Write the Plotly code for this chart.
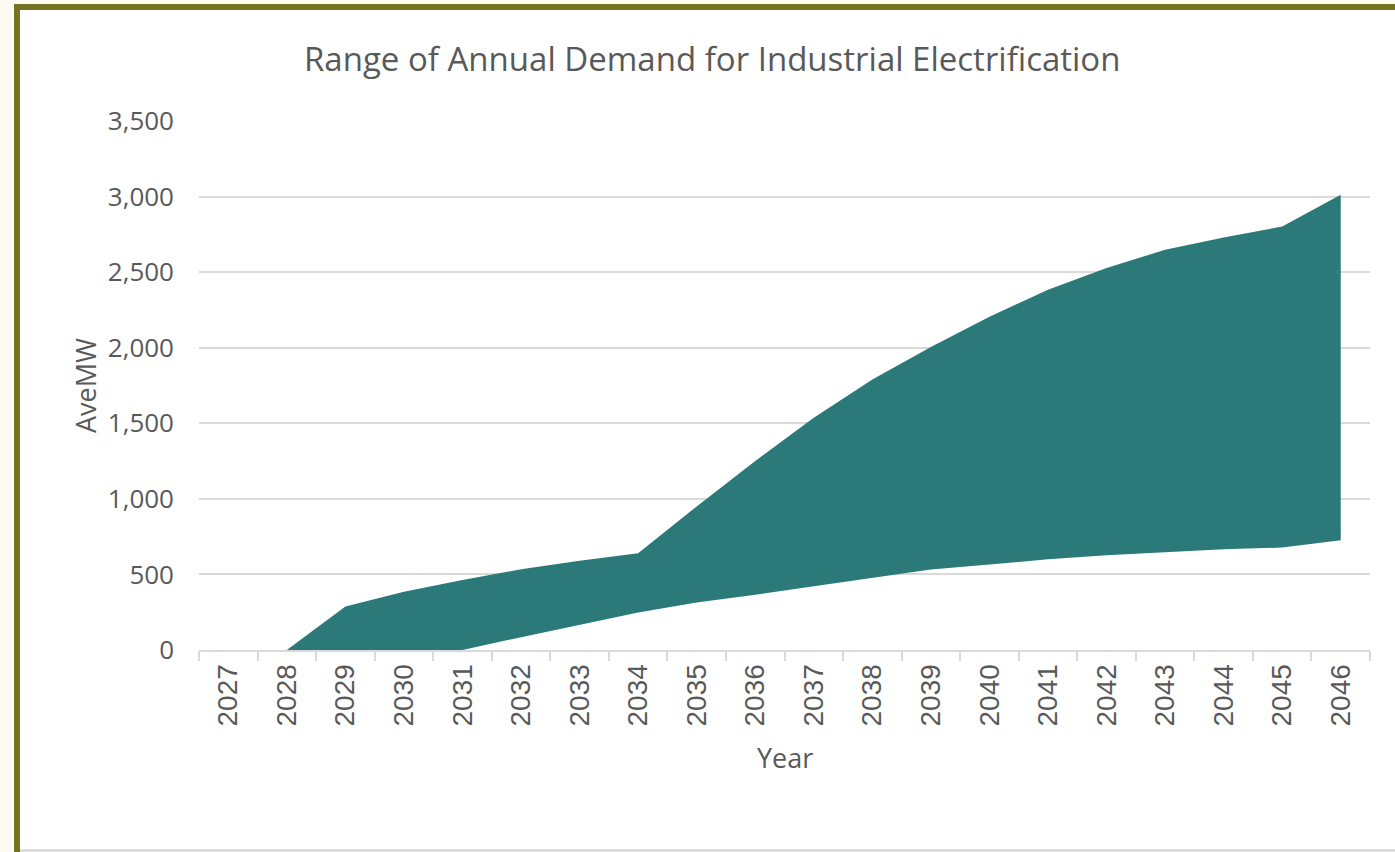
import plotly.graph_objects as go

years = [str(y) for y in range(2027, 2047)]
low_mw = [0, 0, 0, 0, 0, 85, 168, 248, 315, 365, 422, 478, 532, 565, 601, 627, 649, 667, 678, 726]
high_mw = [0, 0, 287, 386, 463, 534, 591, 640, 950, 1250, 1536, 1790, 2005, 2205, 2384, 2527, 2648, 2730, 2802, 3012]
y_ticks = [0, 500, 1000, 1500, 2000, 2500, 3000, 3500]

TEAL = "#2b7a79"
TEXT = "#595959"
GRID = "#d9d9d9"
FONT = "Open Sans"

W, H = 1395, 852
L, R, T, B = 199, 25, 121, 202
PW, PH = W - L - R, H - T - B


def px(x):
    return (x - L) / PW


def py(y):
    return (H - B - y) / PH


fig = go.Figure()
fig.add_trace(go.Scatter(x=years, y=low_mw, mode="lines", line=dict(width=0, color=TEAL),
                         showlegend=False, hoverinfo="skip"))
fig.add_trace(go.Scatter(x=years, y=high_mw, mode="lines", line=dict(width=0, color=TEAL),
                         fill="tonexty", fillcolor=TEAL, showlegend=False))

shapes = [
    dict(type="rect", xref="paper", yref="paper", x0=px(17), x1=px(1420), y0=py(7), y1=py(950),
         line=dict(color="#737322", width=6), fillcolor="white", layer="below"),
    dict(type="line", xref="paper", yref="paper", x0=px(20), x1=px(1400), y0=py(850.5), y1=py(850.5),
         line=dict(color="#d0d0d0", width=2), layer="below"),
]

annotations = [
    dict(text="Range of Annual Demand for Industrial Electrification", xref="paper", yref="paper",
         x=px(712), y=py(59), xanchor="center", yanchor="middle", showarrow=False,
         font=dict(family=FONT, size=33, color=TEXT)),
    dict(text="AveMW", xref="paper", yref="paper", x=px(85), y=py(385), xanchor="center",
         yanchor="middle", textangle=-90, showarrow=False, font=dict(family=FONT, size=27, color=TEXT)),
    dict(text="Year", xref="paper", yref="paper", x=px(785), y=py(757), xanchor="center",
         yanchor="middle", showarrow=False, font=dict(family=FONT, size=27, color=TEXT)),
]

fig.update_layout(
    width=W, height=H,
    margin=dict(l=L, r=R, t=T, b=B, pad=0),
    paper_bgcolor="#fdfaf1",
    plot_bgcolor="rgba(0,0,0,0)",
    shapes=shapes,
    annotations=annotations,
    showlegend=False,
    xaxis=dict(type="category", range=[-0.5, 19.5], showgrid=False, showline=True, linecolor=GRID,
               linewidth=2, ticks="outside", tickson="boundaries", ticklen=9, tickcolor=GRID,
               tickwidth=2, tickangle=-90, ticklabelstandoff=1,
               tickfont=dict(family="Liberation Sans", size=28, color=TEXT)),
    yaxis=dict(range=[0, 3500], tickvals=y_ticks, ticktext=[f"{v:,}" for v in y_ticks],
               showgrid=True, gridcolor=GRID, gridwidth=2, zeroline=False, showline=False,
               ticks="", ticklabelstandoff=24,
               tickfont=dict(family=FONT, size=26, color=TEXT)),
)

fig.write_html("out.html")
